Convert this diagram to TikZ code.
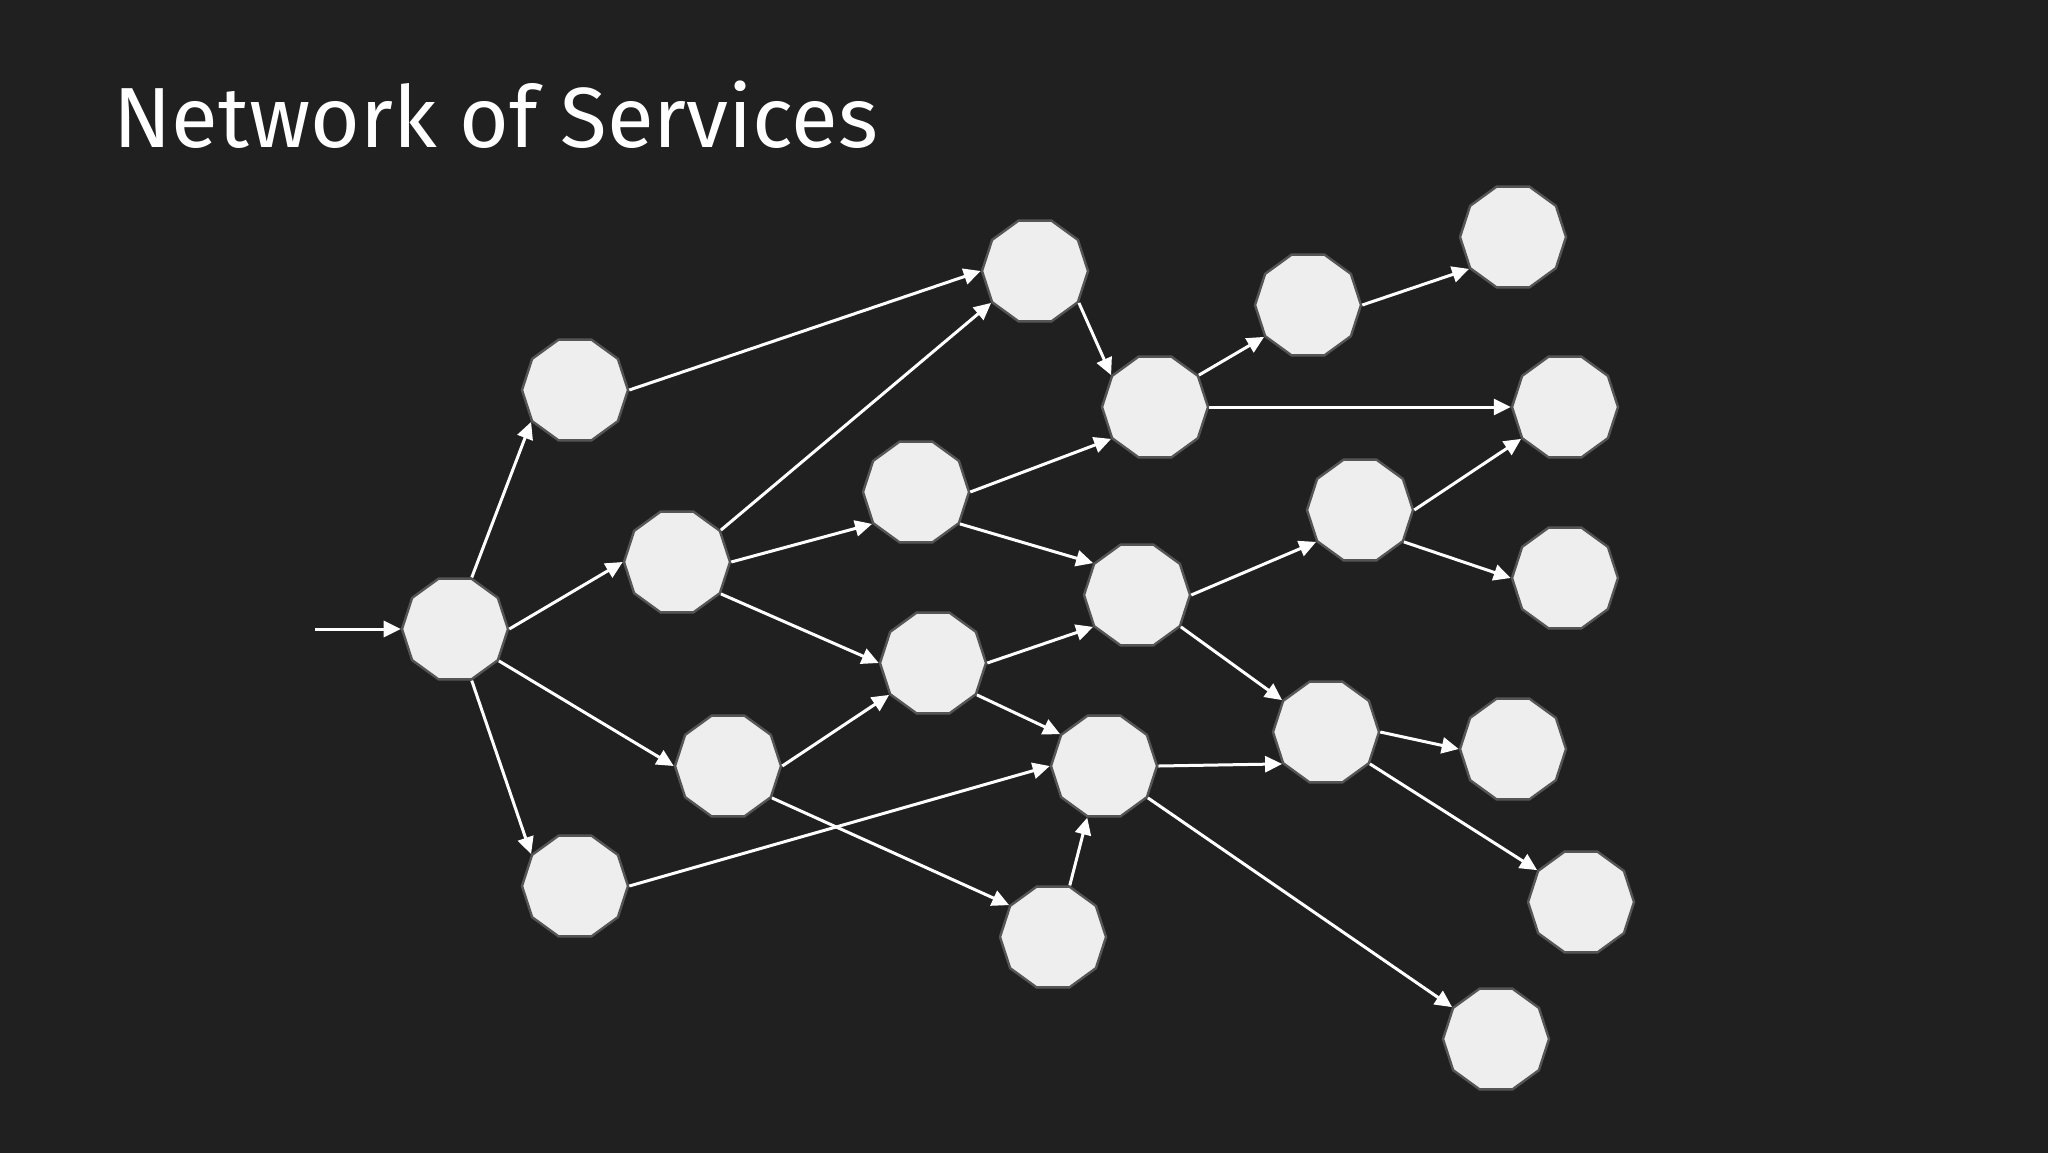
\documentclass[tikz,border=0pt]{standalone}
\usepackage{fontspec}
\setmainfont{Fira Sans}
\usetikzlibrary{shapes.geometric,arrows.meta}
\definecolor{bgdark}{HTML}{202020}
\definecolor{svcfill}{HTML}{EEEEEE}
\definecolor{svcline}{HTML}{555555}
\begin{document}
\begin{tikzpicture}[x=0.5pt,y=-0.5pt,
	svc/.style={regular polygon,regular polygon sides=10,minimum size=53pt,inner sep=0pt,fill=svcfill,draw=svcline,line width=1.2pt},
	link/.style={white,line width=1.5pt,-{Triangle[length=8.5pt,width=8pt]}}]
		\useasboundingbox (0,0) rectangle (2048,1152);
		\fill[bgdark] (-4,-4) rectangle (2052,1156);

		\node[white,anchor=base west,inner sep=0pt,font=\fontsize{42.7}{50}\selectfont] (title) at (113,147) {Network of Services};

		% services, left to right
		\node[svc] (s1) at (455,629) {};
		\node[svc] (s2) at (575,390) {};
		\node[svc] (s3) at (677,562) {};
		\node[svc] (s4) at (728,766) {};
		\node[svc] (s5) at (575,886) {};
		\node[svc] (s6) at (1035,271) {};
		\node[svc] (s7) at (916,492) {};
		\node[svc] (s8) at (933,663) {};
		\node[svc] (s9) at (1053,937) {};
		\node[svc] (s10) at (1155,407) {};
		\node[svc] (s11) at (1137,595) {};
		\node[svc] (s12) at (1104,766) {};
		\node[svc] (s13) at (1308,305) {};
		\node[svc] (s14) at (1513,237) {};
		\node[svc] (s15) at (1565,407) {};
		\node[svc] (s16) at (1360,510) {};
		\node[svc] (s17) at (1565,578) {};
		\node[svc] (s18) at (1326,732) {};
		\node[svc] (s19) at (1513,749) {};
		\node[svc] (s20) at (1581,902) {};
		\node[svc] (s21) at (1496,1039) {};

		\coordinate (in) at (315,629);
		\draw[link] (in) -- (s1.180);

		% links go corner to corner
		\foreach \a/\p/\b/\q in {s1/72/s2/216, s1/0/s3/180, s1/324/s4/180, s1/288/s5/144,
			s2/0/s6/180, s3/36/s6/216, s3/0/s7/216, s3/324/s8/180,
			s4/0/s8/216, s4/324/s9/144, s5/0/s12/180,
			s6/324/s10/144, s7/0/s10/216, s7/324/s11/144,
			s8/0/s11/216, s8/324/s12/144, s9/72/s12/252,
			s10/36/s13/216, s10/0/s15/180, s13/0/s14/216,
			s11/0/s16/216, s11/324/s18/144, s16/0/s15/216, s16/324/s17/180,
			s12/0/s18/216, s12/324/s21/144, s18/0/s19/180, s18/324/s20/144}
			{\draw[link] (\a.\p) -- (\b.\q);}
	\end{tikzpicture}
\end{document}
